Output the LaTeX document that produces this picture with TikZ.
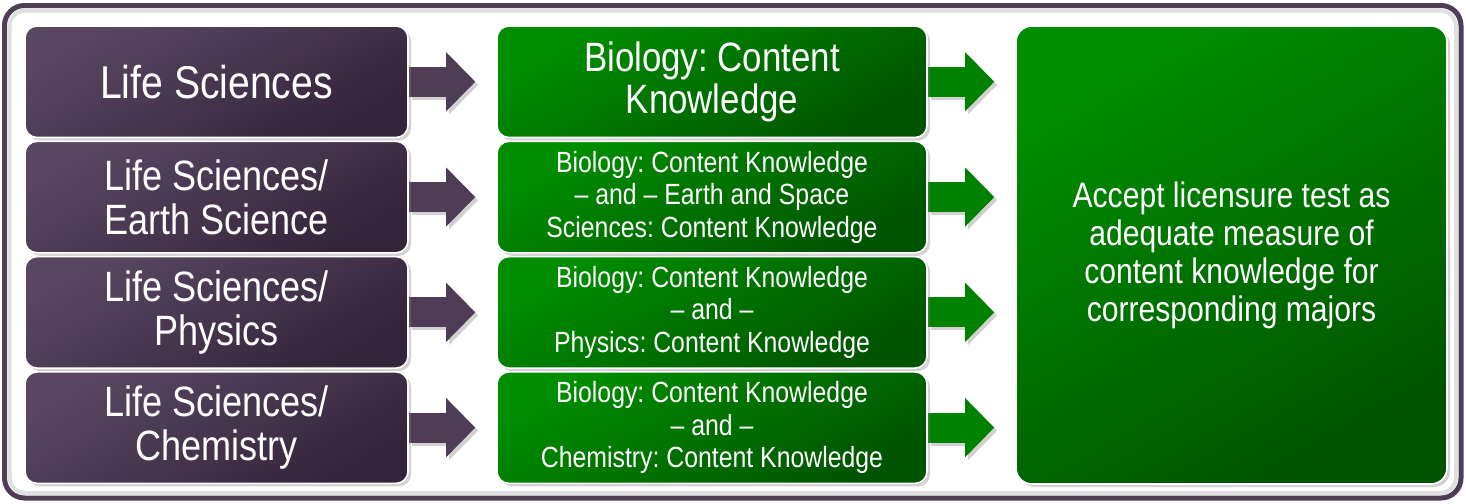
\documentclass[tikz,border=0pt]{standalone}
\usepackage{fontspec}
\setmainfont{Liberation Sans}[FakeStretch=0.85]
\usetikzlibrary{positioning,arrows.meta,shadows,backgrounds}
\definecolor{lila}{HTML}{4F3D55}
\definecolor{lilaclaro}{HTML}{594762}
\definecolor{lilaoscuro}{HTML}{33243A}
\definecolor{verde}{HTML}{008200}
\definecolor{verdeclaro}{HTML}{008E00}
\definecolor{verdeoscuro}{HTML}{005400}
\frenchspacing

\begin{document}
\begin{tikzpicture}[font=\fontsize{21.2}{22}\selectfont,text=white,
        caja/.style={draw=white,line width=0.8pt,rounded corners=6pt,inner sep=0pt,align=center,
          drop shadow={shadow xshift=1.5pt,shadow yshift=-1.5pt,opacity=0.35}},
        area/.style={caja,minimum width=191.5pt,minimum height=55.75pt,
          top color=lilaclaro,bottom color=lilaoscuro,shading angle=30},
        examen/.style={caja,minimum width=215pt,minimum height=55.75pt,
          top color=verdeclaro,bottom color=verdeoscuro,shading angle=30},
        grande/.style={font=\fontsize{23}{24}\selectfont},
        chica/.style={font=\fontsize{14.6}{16.2}\selectfont},
        flecha/.style={line width=15pt,-{Triangle[length=14.5pt,width=29.5pt,line width=0pt]},shorten >=10.5pt},
        sombra/.style={black,opacity=0.18,transform canvas={shift={(1.5pt,-1.5pt)}}}]
        \useasboundingbox (0,0) rectangle (733pt,-251.5pt);
        % columna de la izquierda
        \node[area,grande] (l1) at (108.25pt,-40.875pt) {Life Sciences};
        \node[area,below=1.1pt of l1] (l2) {Life Sciences/\\Earth Science};
        \node[area,below=1.1pt of l2] (l3) {Life Sciences/\\Physics};
        \node[area,below=1.1pt of l3] (l4) {Life Sciences/\\Chemistry};
        % examenes
        \node[examen,font=\fontsize{20.5}{21}\selectfont,right=43.7pt of l1] (m1) {Biology: Content\\Knowledge};
        \node[examen,chica,right=43.7pt of l2] (m2)
          {Biology: Content Knowledge\\-- and -- Earth and Space\\Sciences: Content Knowledge};
        \node[examen,chica,right=43.7pt of l3] (m3)
          {Biology: Content Knowledge\\-- and --\\Physics: Content Knowledge};
        \node[examen,chica,right=43.7pt of l4] (m4)
          {Biology: Content Knowledge\\-- and --\\Chemistry: Content Knowledge};
        \node[caja,rounded corners=8pt,top color=verdeclaro,bottom color=verdeoscuro,shading angle=30,
          minimum width=215.5pt,minimum height=229pt,font=\fontsize{17.7}{19}\selectfont,
          right=43.7pt of m1.north east,anchor=north west] (r)
          {Accept licensure test as\\adequate measure of\\content knowledge for\\corresponding majors};
        \begin{scope}[on background layer]
          \draw[lila,line width=2.5pt,fill=white,rounded corners=10pt] (2.25pt,-2.75pt) rectangle (730.5pt,-249pt);
          \draw[black!12,line width=2pt,rounded corners=8pt] (4.8pt,-5.3pt) rectangle (728pt,-246.5pt);
          \foreach \i in {1,...,4} {
            \draw[flecha,sombra] (l\i.east) -- (m\i.west);
            \draw[flecha,lila] (l\i.east) -- (m\i.west);
            \draw[flecha,sombra] (m\i.east) -- (m\i.east -| r.west);
            \draw[flecha,verde] (m\i.east) -- (m\i.east -| r.west);
          }
        \end{scope}
      \end{tikzpicture}
\end{document}
